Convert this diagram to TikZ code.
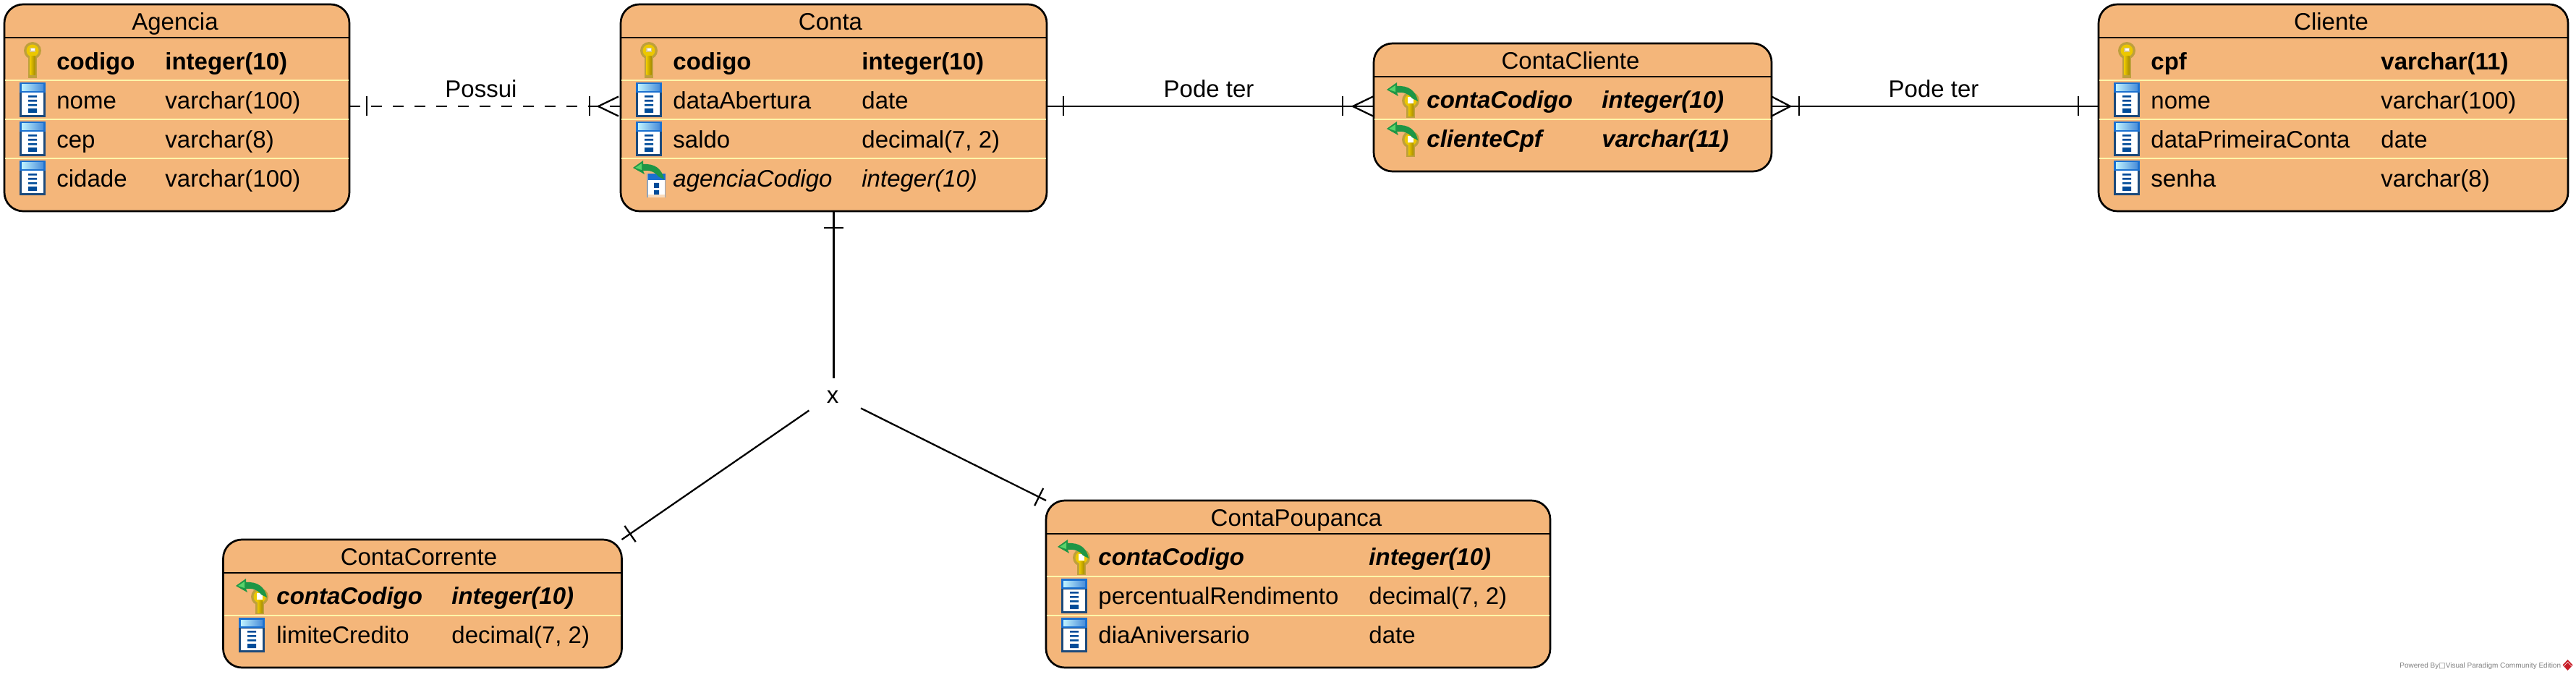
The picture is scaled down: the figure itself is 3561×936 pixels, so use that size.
\documentclass[tikz,border=0pt]{standalone}
\usepackage{fontspec}
\setmainfont{Liberation Sans}
\newfontfamily\symbfont{DejaVu Sans}
\usetikzlibrary{backgrounds,decorations.markings}
\definecolor{tablefill}{RGB}{244,182,122}
\definecolor{rowcolor}{RGB}{255,246,170}
\definecolor{framedark}{RGB}{28,74,124}
\definecolor{framebright}{RGB}{26,112,208}
\definecolor{keyedge}{RGB}{190,160,60}
\definecolor{keygold}{RGB}{236,200,0}
\definecolor{arrowgreen}{RGB}{30,150,70}
\definecolor{vpred}{RGB}{200,30,40}
\newcommand{\tablefont}{\fontsize{16.5}{19}\selectfont}
\tikzset{
    fieldicon/.pic={
        \fill[framedark] (-18,0) rectangle (18,48);
        \fill[framebright] (-18,0) rectangle (18,14);
        \shade[left color=blue!20!cyan!25, right color=framebright!80] (-15,3) rectangle (15,11.5);
        \fill[white] (-15,14.5) rectangle (15,45);
        \fill[blue!50!cyan!60!black] (-6,18) rectangle (6,20.7) (-6,24) rectangle (6,26.7) (-6,30) rectangle (6,32.7) (-6,36) rectangle (6,42);
    },
    keyicon/.pic={
        \fill[keyedge] (0,10) circle (12);
        \fill[keyedge] (-6,18) rectangle (6,48);
        \fill[keygold] (0,10) circle (8.5);
        \shade[left color=keygold, right color=keygold!70!black] (-3.5,18) rectangle (3.5,44);
        \fill[keyedge!60!white] (-4,6) rectangle (4,12);
        \fill[white] (-2.5,7.5) rectangle (2.5,10);
    },
    greenarrow/.pic={
        \fill[arrowgreen] (0,10) -- (14,0) -- (14,5) .. controls (30,4) and (40,11) .. (43,26) -- (35,22) .. controls (30,15) and (22,13) .. (14,14) -- (16,19) -- cycle;
        \fill[arrowgreen!60!green!70!white] (3,10) -- (12,4) -- (12,13) -- cycle;
    },
    fkicon/.pic={
        \fill[framedark!50!white] (19,18) rectangle (45,51);
        \fill[framebright] (21,18) rectangle (45,27);
        \fill[white] (21,27) rectangle (44,47);
        \fill[tablefill!50!white] (21,47) rectangle (44,51);
        \fill[blue!50!cyan!60!black] (29,31) rectangle (36,38) (29,41) rectangle (36,47);
        \pic at (0,0) {greenarrow};
    },
    fkkeyicon/.pic={
        \fill[keyedge] (33,25) circle (12);
        \fill[keyedge] (27,30) rectangle (39,49);
        \fill[keygold] (33,25) circle (8.5);
        \shade[left color=keygold, right color=keygold!70!black] (30,30) rectangle (37,47);
        \fill[white] (29,20) rectangle (37,29);
        \pic at (0,0) {greenarrow};
    },
    barat/.style={postaction={decorate, decoration={markings, mark=at position #1 with {\draw[solid] (0,-13.5) -- (0,13.5);}}}},
    crowend/.style={postaction={decorate, decoration={markings, mark=at position #1 with {\draw[solid] (28,-13.5) -- (0,0) -- (28,13.5);}}}},
    crowstart/.style={postaction={decorate, decoration={markings, mark=at position #1 with {\draw[solid] (-26,-13.5) -- (0,0) -- (-26,13.5);}}}}
}
\begin{document}
\begin{tikzpicture}
    [x=0.5pt, y=-0.5pt,
    tablebox/.style={draw, fill=tablefill, rounded corners=13pt, line width=1.35pt, inner sep=0pt, outer sep=0pt},
    title/.style={anchor=base, inner sep=0pt, font=\tablefont},
    field/.style={anchor=base west, inner sep=0pt, font=\tablefont},
    pkfield/.style={anchor=base west, inner sep=0pt, font=\tablefont\bfseries},
    fkfield/.style={anchor=base west, inner sep=0pt, font=\tablefont\itshape},
    pfkfield/.style={anchor=base west, inner sep=0pt, font=\tablefont\bfseries\itshape},
    headline/.style={line width=0.85pt},
    rowline/.style={rowcolor, line width=1.4pt, shorten >=0.6pt, shorten <=0.6pt},
    relation/.style={line width=1.15pt},
    rellabel/.style={anchor=base, inner sep=0pt, font=\tablefont}]
    \useasboundingbox (0,0) rectangle (3561,936);
    % Agencia
    \node[tablebox, minimum width=238.5pt, minimum height=143pt] (agencia) at (244.5,149) {};
    \node[title] (agTitle) at (242,42) {Agencia};
    \draw[headline] (agencia.west |- 0,52) -- (agencia.east |- 0,52);
    \draw[rowline] (agencia.west |- 0,111) -- (agencia.east |- 0,111);
    \draw[rowline] (agencia.west |- 0,165) -- (agencia.east |- 0,165);
    \draw[rowline] (agencia.west |- 0,219) -- (agencia.east |- 0,219);
    \pic at (45,60) {keyicon};
    \pic at (45,114) {fieldicon};
    \pic at (45,168) {fieldicon};
    \pic at (45,222) {fieldicon};
    \node[pkfield] (agCodigo) at (78,96.5) {codigo};
    \node[pkfield] (agCodigoT) at (228,96.5) {integer(10)};
    \node[field] (agNome) at (78,150.5) {nome};
    \node[field] (agNomeT) at (228,150.5) {varchar(100)};
    \node[field] (agCep) at (78,204.5) {cep};
    \node[field] (agCepT) at (228,204.5) {varchar(8)};
    \node[field] (agCidade) at (78,258.5) {cidade};
    \node[field] (agCidadeT) at (228,258.5) {varchar(100)};
    % Conta
    \node[tablebox, minimum width=294.5pt, minimum height=143pt] (conta) at (1152.5,149) {};
    \node[title] (coTitle) at (1148,42) {Conta};
    \draw[headline] (conta.west |- 0,52) -- (conta.east |- 0,52);
    \draw[rowline] (conta.west |- 0,111) -- (conta.east |- 0,111);
    \draw[rowline] (conta.west |- 0,165) -- (conta.east |- 0,165);
    \draw[rowline] (conta.west |- 0,219) -- (conta.east |- 0,219);
    \pic at (897,60) {keyicon};
    \pic at (897,114) {fieldicon};
    \pic at (897,168) {fieldicon};
    \pic at (875,222) {fkicon};
    \node[pkfield] (coCodigo) at (930,96.5) {codigo};
    \node[pkfield] (coCodigoT) at (1191,96.5) {integer(10)};
    \node[field] (coData) at (930,150.5) {dataAbertura};
    \node[field] (coDataT) at (1191,150.5) {date};
    \node[field] (coSaldo) at (930,204.5) {saldo};
    \node[field] (coSaldoT) at (1191,204.5) {decimal(7, 2)};
    \node[fkfield] (coAgencia) at (930,258.5) {agenciaCodigo};
    \node[fkfield] (coAgenciaT) at (1191,258.5) {integer(10)};
    % ContaCliente
    \node[tablebox, minimum width=275pt, minimum height=88.5pt] (contaCliente) at (2174,148.5) {};
    \node[title] (ccTitle) at (2171,96) {ContaCliente};
    \draw[headline] (contaCliente.west |- 0,106) -- (contaCliente.east |- 0,106);
    \draw[rowline] (contaCliente.west |- 0,165) -- (contaCliente.east |- 0,165);
    \pic at (1917,114) {fkkeyicon};
    \pic at (1917,168) {fkkeyicon};
    \node[pfkfield] (ccConta) at (1972,150) {contaCodigo};
    \node[pfkfield] (ccContaT) at (2214,150) {integer(10)};
    \node[pfkfield] (ccCliente) at (1972,204) {clienteCpf};
    \node[pfkfield] (ccClienteT) at (2214,204) {varchar(11)};
    % Cliente
    \node[tablebox, minimum width=324.5pt, minimum height=143pt] (cliente) at (3225.5,149) {};
    \node[title] (clTitle) at (3222.5,42) {Cliente};
    \draw[headline] (cliente.west |- 0,52) -- (cliente.east |- 0,52);
    \draw[rowline] (cliente.west |- 0,111) -- (cliente.east |- 0,111);
    \draw[rowline] (cliente.west |- 0,165) -- (cliente.east |- 0,165);
    \draw[rowline] (cliente.west |- 0,219) -- (cliente.east |- 0,219);
    \pic at (2940,60) {keyicon};
    \pic at (2940,114) {fieldicon};
    \pic at (2940,168) {fieldicon};
    \pic at (2940,222) {fieldicon};
    \node[pkfield] (clCpf) at (2973,96.5) {cpf};
    \node[pkfield] (clCpfT) at (3291,96.5) {varchar(11)};
    \node[field] (clNome) at (2973,150.5) {nome};
    \node[field] (clNomeT) at (3291,150.5) {varchar(100)};
    \node[field] (clData) at (2973,204.5) {dataPrimeiraConta};
    \node[field] (clDataT) at (3291,204.5) {date};
    \node[field] (clSenha) at (2973,258.5) {senha};
    \node[field] (clSenhaT) at (3291,258.5) {varchar(8)};
    % ContaCorrente
    \node[tablebox, minimum width=275.5pt, minimum height=88.5pt] (contaCorrente) at (584,834.5) {};
    \node[title] (crTitle) at (579,781.5) {ContaCorrente};
    \draw[headline] (contaCorrente.west |- 0,792) -- (contaCorrente.east |- 0,792);
    \draw[rowline] (contaCorrente.west |- 0,851) -- (contaCorrente.east |- 0,851);
    \pic at (326,800) {fkkeyicon};
    \pic at (348,854) {fieldicon};
    \node[pfkfield] (crConta) at (382,835.5) {contaCodigo};
    \node[pfkfield] (crContaT) at (624,835.5) {integer(10)};
    \node[field] (crLimite) at (382,889.5) {limiteCredito};
    \node[field] (crLimiteT) at (624,889.5) {decimal(7, 2)};
    % ContaPoupanca
    \node[tablebox, minimum width=348.5pt, minimum height=115.5pt] (contaPoupanca) at (1794.5,807.5) {};
    \node[title] (cpTitle) at (1792,727.5) {ContaPoupanca};
    \draw[headline] (contaPoupanca.west |- 0,738) -- (contaPoupanca.east |- 0,738);
    \draw[rowline] (contaPoupanca.west |- 0,797) -- (contaPoupanca.east |- 0,797);
    \draw[rowline] (contaPoupanca.west |- 0,851) -- (contaPoupanca.east |- 0,851);
    \pic at (1462,746) {fkkeyicon};
    \pic at (1485,800) {fieldicon};
    \pic at (1485,854) {fieldicon};
    \node[pfkfield] (cpConta) at (1518,781.5) {contaCodigo};
    \node[pfkfield] (cpContaT) at (1892,781.5) {integer(10)};
    \node[field] (cpPercent) at (1518,835.5) {percentualRendimento};
    \node[field] (cpPercentT) at (1892,835.5) {decimal(7, 2)};
    \node[field] (cpDia) at (1518,889.5) {diaAniversario};
    \node[field] (cpDiaT) at (1892,889.5) {date};
    %
    \node[inner sep=0pt, outer sep=0pt, minimum width=39pt, minimum height=22.5pt, text height=12pt, text depth=0pt, font=\tablefont] (heranca) at (1151,545) {x};
    %
    \begin{scope}[on background layer]
    \draw[relation, dash pattern=on 7.5pt off 7.5pt, barat=12pt, barat=-21.5pt, crowend=-15.5pt] ([yshift=1pt]agencia.east) -- ([yshift=1pt]conta.west);
    \draw[relation, barat=11.5pt, barat=-21.5pt, crowend=-14.5pt] ([yshift=1pt]conta.east) -- ([yshift=0.75pt]contaCliente.west);
    \draw[relation, crowstart=13pt, barat=19pt, barat=-14pt] ([yshift=0.75pt]contaCliente.east) -- ([yshift=1pt]cliente.west);
    \draw[relation, barat=11.5pt] (conta.south) -- (heranca.north -| conta.south);
    \draw[relation, barat=-7pt] (heranca) -- (contaCorrente.north east);
    \draw[relation, barat=-5.5pt] (heranca) -- (contaPoupanca.north west);
    \end{scope}
    \node[rellabel] (possui) at (665,135) {Possui};
    \node[rellabel] (podeTer1) at (1671,135) {Pode ter};
    \node[rellabel] (podeTer2) at (2673,135) {Pode ter};
    % footer
    \node[anchor=base west, inner sep=0pt, text=black!50, font=\fontsize{5}{6}\selectfont] (powered) at (3317,923) {Powered By{\symbfont □}Visual Paradigm Community Edition};
    \fill[vpred] (3549.5,912) -- (3556.5,919.5) -- (3549.5,927) -- (3542.5,919.5) -- cycle;
    \draw[white, line width=0.3pt] (3544,921) -- (3549.5,915.5) -- (3555,921);
\end{tikzpicture}
\end{document}
